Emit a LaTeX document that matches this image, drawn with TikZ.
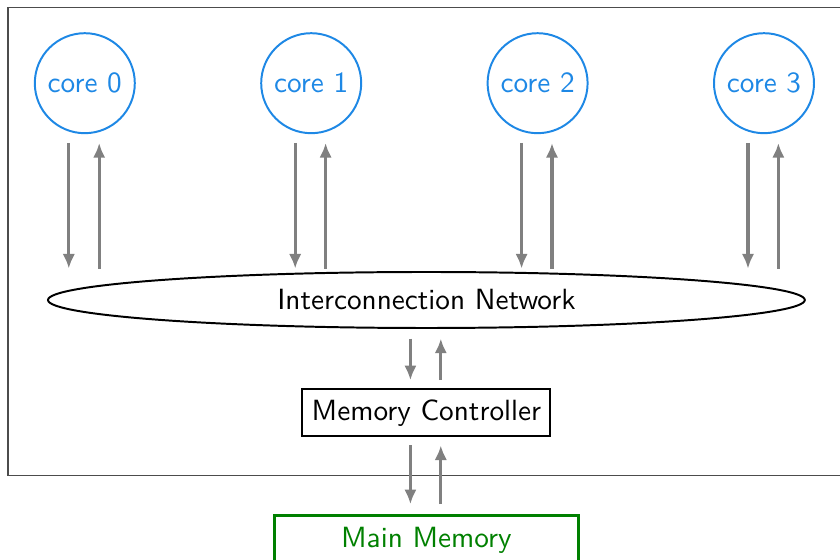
\documentclass[tikz,border=0pt]{standalone}
\usepackage{tikz}
\usetikzlibrary{shapes.geometric,arrows.meta,calc}
\definecolor{coreblue}{RGB}{30,136,229}
\definecolor{memgreen}{RGB}{0,128,0}

\begin{document}
\begin{tikzpicture}[font=\sffamily\fontsize{10.4pt}{12.5pt}\selectfont]
        \tikzstyle{core} = [shape = circle, draw = coreblue, text = coreblue, line width = 0.7pt, minimum size = 1.25cm, inner sep = 1pt]
        \tikzstyle{link} = [draw = gray, line width = 1.1pt, -{Latex[length=5.2pt,width=4.4pt]}]
        \useasboundingbox (0, 0) rectangle (10.5, -6.99);
        \draw[black!70, line width = 0.4pt] (0.1, -0.09) rectangle (10.62, -5.94);
        \node[core] (C-0) at (1.06, -1.04) {core 0};
        \node[core] (C-1) at (3.89, -1.04) {core 1};
        \node[core] (C-2) at (6.72, -1.04) {core 2};
        \node[core] (C-3) at (9.55, -1.04) {core 3};
        \node[shape = ellipse, draw, line width = 0.7pt, minimum width = 9.46cm, minimum height = 0.7cm, inner sep = 0pt] (N) at (5.33, -3.75) {Interconnection Network};
        \node[shape = rectangle, draw, line width = 0.7pt, minimum width = 3.1cm, minimum height = 0.59cm] (M) at (5.33, -5.16) {Memory Controller};
        \node[shape = rectangle, draw = memgreen, text = memgreen, line width = 1pt, minimum width = 3.8cm, minimum height = 0.62cm] (R) at (5.33, -6.75) {Main Memory};
        \draw[link] ($(C-0.south)+(-0.2, -0.11)$) -- ($(C-0.south |- N.north)+(-0.2, 0.03)$);
        \draw[link] ($(C-0.south |- N.north)+(0.18, 0.03)$) -- ($(C-0.south)+(0.18, -0.11)$);
        \draw[link] ($(C-1.south)+(-0.2, -0.11)$) -- ($(C-1.south |- N.north)+(-0.2, 0.03)$);
        \draw[link] ($(C-1.south |- N.north)+(0.18, 0.03)$) -- ($(C-1.south)+(0.18, -0.11)$);
        \draw[link] ($(C-2.south)+(-0.2, -0.11)$) -- ($(C-2.south |- N.north)+(-0.2, 0.03)$);
        \draw[link] ($(C-2.south |- N.north)+(0.18, 0.03)$) -- ($(C-2.south)+(0.18, -0.11)$);
        \draw[link] ($(C-3.south)+(-0.2, -0.11)$) -- ($(C-3.south |- N.north)+(-0.2, 0.03)$);
        \draw[link] ($(C-3.south |- N.north)+(0.18, 0.03)$) -- ($(C-3.south)+(0.18, -0.11)$);
        \draw[link] ($(N.south)+(-0.2, -0.12)$) -- ($(M.north)+(-0.2, 0.1)$);
        \draw[link] ($(M.north)+(0.18, 0.1)$) -- ($(N.south)+(0.18, -0.12)$);
        \draw[link] ($(M.south)+(-0.2, -0.1)$) -- ($(R.north)+(-0.2, 0.12)$);
        \draw[link] ($(R.north)+(0.18, 0.12)$) -- ($(M.south)+(0.18, -0.1)$);
      \end{tikzpicture}
\end{document}
